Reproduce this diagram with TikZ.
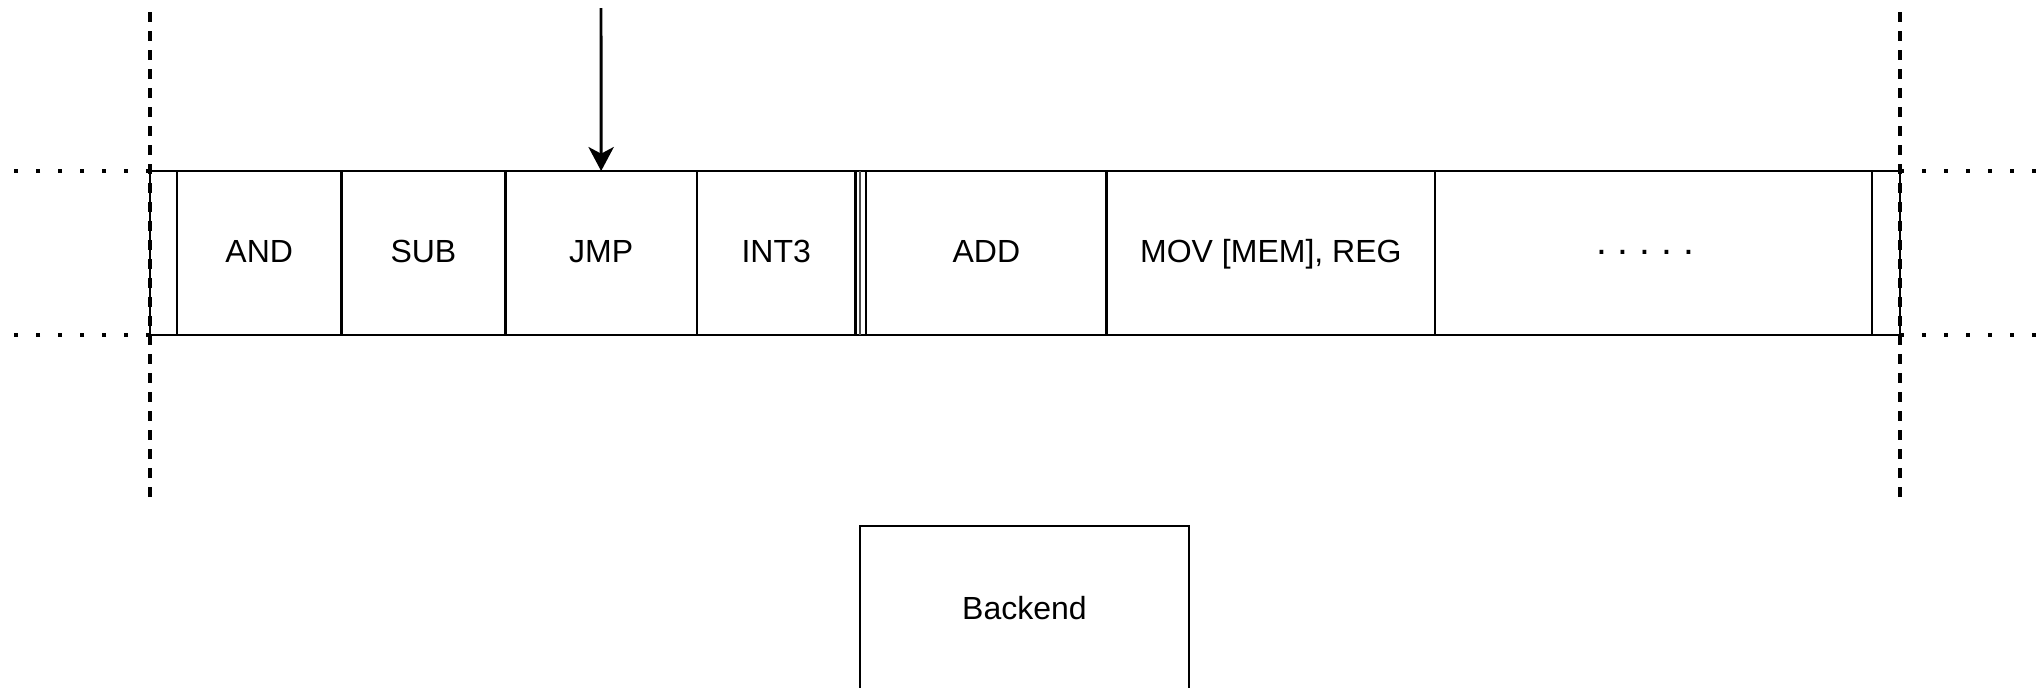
\documentclass[tikz,border=0pt]{standalone}
\usepackage{fontspec}
\setmainfont{Liberation Sans}
\usetikzlibrary{positioning,arrows.meta}
\tikzset{
  cell/.style={draw, line width=2.2pt, minimum height=123pt, inner sep=0pt, outer sep=0pt,
    text height=17.5pt, text depth=4pt, font=\fontsize{24pt}{29pt}\selectfont},
  border/.style={line width=2.3pt, dash pattern=on 7.5pt off 6.75pt},
  trail/.style={line width=3.2pt, dash pattern=on 3.2pt off 13.3pt},
  fetch/.style={line width=2.2pt, -{Stealth[length=18pt,width=19pt,inset=5pt]}}
}
\begin{document}
\begin{tikzpicture}[x=0.75pt, y=-0.75pt]
\useasboundingbox (0,0) rectangle (2038,687);
\node[cell, minimum width=20.25pt, anchor=west] (lpad) at (150,253) {};
\node[cell, minimum width=123.375pt, right=0pt of lpad] (and) {AND};
\node[cell, minimum width=122.85pt, right=0pt of and] (sub) {SUB};
\node[cell, minimum width=143.775pt, right=0pt of sub] (jmp) {JMP};
\node[cell, minimum width=118.875pt, right=0pt of jmp] (int3) {INT3};
\node[cell, minimum width=180.525pt, right=7.875pt of int3] (add) {ADD};
\node[cell, minimum width=246.225pt, right=0pt of add] (mov) {MOV [MEM], REG};
\node[cell, minimum width=327.75pt, right=0pt of mov] (rest) {};
\node[cell, minimum width=21pt, right=0pt of rest] (rpad) {};
\node[inner sep=0pt, font=\fontsize{29.3pt}{35pt}\selectfont\frenchspacing] (more) at (1645,252) {. . . . .};
\draw[line width=2.2pt] (lpad.north west) rectangle (rpad.south east);
\draw[line width=1pt, black!70] ([xshift=3.4pt]int3.north east) -- ([xshift=3.4pt]int3.south east);

\coordinate (ltop) at (150,12);
\coordinate (lbot) at (150,498);
\coordinate (rtop) at (1900,12);
\coordinate (rbot) at (1900,498);
\draw[border] (ltop) -- (lbot);
\draw[border] (rtop) -- (rbot);

\coordinate (lfarup) at (10,171);
\coordinate (lfardown) at (10,335);
\coordinate (rfarup) at (2040,171);
\coordinate (rfardown) at (2040,335);
\draw[trail] (lpad.north west) -- (lfarup);
\draw[trail] (lpad.south west) -- (lfardown);
\draw[trail] (rpad.north east) -- (rfarup);
\draw[trail] (rpad.south east) -- (rfardown);

\coordinate (pc) at (601,8);
\draw[fetch] (pc) -- (jmp.north);

\node[cell, minimum width=246.75pt, minimum height=122.25pt, text height=19.5pt, text depth=1.5pt] (backend) at (1024.5,607.5) {Backend};
\end{tikzpicture}
\end{document}
